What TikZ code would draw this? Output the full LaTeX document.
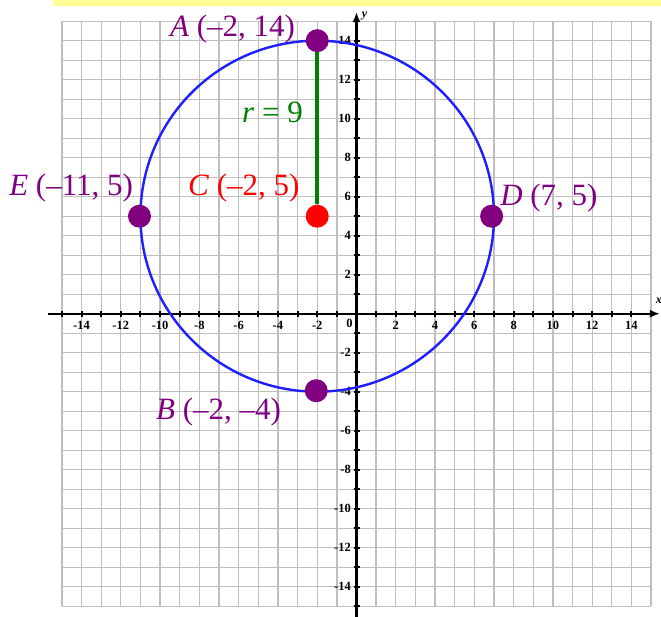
\documentclass[tikz,border=0pt]{standalone}
\usepackage{fontspec}
\setmainfont{Liberation Serif}
\usetikzlibrary{arrows.meta}
\definecolor{ptpurple}{RGB}{128,0,128}
\definecolor{circblue}{RGB}{30,30,255}
\definecolor{rgreen}{RGB}{0,128,0}
\definecolor{gridgray}{RGB}{190,190,190}
\definecolor{baryellow}{RGB}{255,255,150}
\begin{document}
\begin{tikzpicture}[x=19.64pt,y=19.5pt,
 gridline/.style={draw=gridgray,line width=1.3pt},
 axisline/.style={draw=black,line width=2.2pt,-{Latex[length=10pt,width=8pt]}},
 tickmark/.style={line width=2pt},
 ticklabel/.style={font=\fontsize{12.5}{12.5}\selectfont\bfseries,inner sep=0pt},
 axislabel/.style={font=\fontsize{12}{12}\selectfont\bfseries\itshape,inner sep=0pt},
 dot/.style={circle,inner sep=0pt,minimum size=23pt},
 ptlabel/.style={font=\fontsize{31}{31}\selectfont,inner sep=0pt,anchor=base west},
]
\useasboundingbox (-18.152,-15.503) rectangle (15.504,16.087);
\fill[baryellow] (-15.44,15.795) rectangle (15.504,16.2);
\foreach \i in {-15,...,15}{
  \draw[gridline] (\i,-15) -- (\i,15);
  \draw[gridline] (-15,\i) -- (15,\i);
}
% axes
\coordinate (xl) at (-15.7,0);
\coordinate (xr) at (15.45,0);
\coordinate (yb) at (0,-16);
\coordinate (yt) at (0,15.47);
\draw[axisline] (xl) -- (xr);
\draw[axisline] (yb) -- (yt);
\foreach \i in {-15,...,14}{
  \draw[tickmark] (\i,0) ++(0,-3pt) -- ++(0,6pt);
  \draw[tickmark] (0,\i) ++(-3pt,0) -- ++(6pt,0);
}
\foreach \i in {-14,-12,...,-2,2,4,...,14}{
  \node[ticklabel,anchor=north] (xt\i) at (\i,-0.38) {\i};
  \node[ticklabel,anchor=east] (yt\i) at (-0.28,\i) {\i};
}
\node[ticklabel,anchor=north] (zero) at (-0.36,-0.25) {0};
\node[axislabel] (xlab) at (15.39,0.65) {x};
\node[axislabel] (ylab) at (0.41,15.24) {y};
% circle
\coordinate (cc) at (-2,5);
\draw[circblue,line width=2.4pt] (cc) circle[radius=9];
% points
\node[dot,fill=ptpurple] (A) at (-2,14) {};
\node[dot,fill=red] (C) at (-2,5) {};
\node[dot,fill=ptpurple] (D) at (6.88,5) {};
\node[dot,fill=ptpurple] (E) at (-11.05,5) {};
\node[dot,fill=ptpurple] (B) at (-2.05,-3.95) {};
\draw[rgreen,line width=4.5pt] (A) -- (C);
% labels
\node[ptlabel,text=ptpurple] (Alab) at (-9.5,14.24) {\textit{A} (\textendash2, 14)};
\node[ptlabel,text=ptpurple] (Elab) at (-17.69,6.08) {\textit{E} (\textendash11, 5)};
\node[ptlabel,text=red] (Clab) at (-8.58,6.08) {\textit{C} (\textendash2, 5)};
\node[ptlabel,text=ptpurple] (Dlab) at (7.31,5.57) {\textit{D} (7, 5)};
\node[ptlabel,text=ptpurple] (Blab) at (-10.21,-5.45) {\textit{B} (\textendash2, \textendash4)};
\node[ptlabel,text=rgreen] (rlab) at (-5.83,9.78) {\textit{r} = 9};
\end{tikzpicture}
\end{document}
